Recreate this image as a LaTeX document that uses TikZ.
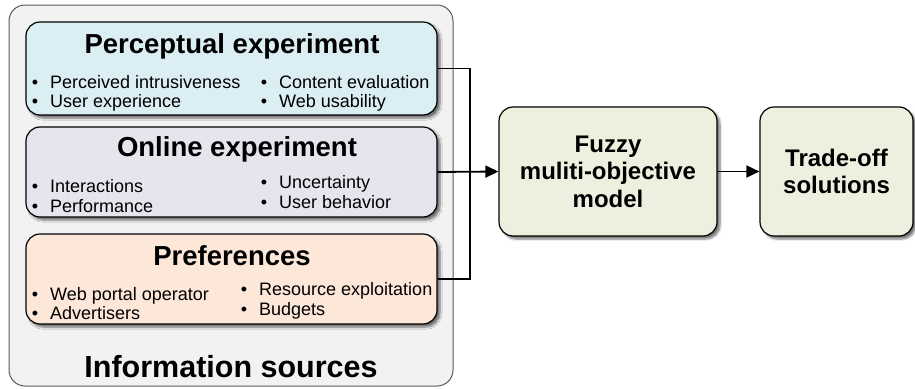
\documentclass[tikz,border=0pt]{standalone}
\usepackage{fontspec}
\setmainfont{Liberation Sans}
\usetikzlibrary{arrows.meta,shadows.blur}

\definecolor{srcgray}{HTML}{F2F2F2}
\definecolor{srcedge}{HTML}{5A5A5A}
\definecolor{percblue}{HTML}{DAEEF3}
\definecolor{onlinelilac}{HTML}{E7E4EE}
\definecolor{prefpeach}{HTML}{FCE7D8}
\definecolor{modelgreen}{HTML}{EBF1DE}

% bullet hung to the left of an item
\newcommand{\itm}{\llap{\textbullet\hspace{12pt}}}

\tikzset{
  panel/.style={draw=black, line width=1.2pt, rounded corners=14pt,
    minimum width=411pt, inner sep=0pt,
    blur shadow={shadow xshift=3pt, shadow yshift=-3pt,
      shadow blur steps=6, shadow opacity=55}},
  stage/.style={panel, fill=modelgreen, minimum height=129pt, align=center,
    font=\fontsize{24}{27.5}\selectfont\bfseries},
  heading/.style={anchor=base, inner sep=0pt,
    font=\fontsize{27.5}{30}\selectfont\bfseries},
  item/.style={anchor=base west, inner sep=0pt,
    font=\fontsize{18}{20}\selectfont},
  link/.style={line width=1.8pt},
  arrow/.style={link, -{Triangle[length=13pt,width=12pt]}}
}

\begin{document}
\begin{tikzpicture}[x=1pt,y=-1pt]
    \useasboundingbox (0,0) rectangle (915,388);

    % sources
    \node[draw=srcedge, line width=1pt, fill=srcgray, rounded corners=16pt,
      minimum width=444pt, minimum height=381pt] (sources) at (231,195.5) {};
    \node[anchor=base, inner sep=0pt, font=\fontsize{30.5}{32}\selectfont\bfseries]
      (sources-title) at (231,377) {Information sources};

    \node[panel, fill=percblue, minimum height=93pt] (perc) at (231.5,68.5) {};
    \node[heading] (perc-title) at (232,53) {Perceptual experiment};
    \node[item] (perc-a) at (50,88) {\itm Perceived intrusiveness};
    \node[item] (perc-b) at (50,107) {\itm User experience};
    \node[item] (perc-c) at (279,88) {\itm Content evaluation};
    \node[item] (perc-d) at (279,107) {\itm Web usability};

    \node[panel, fill=onlinelilac, minimum height=90pt] (online) at (231.5,172) {};
    \node[heading] (online-title) at (237,156) {Online experiment};
    \node[item] (online-a) at (50,192) {\itm Interactions};
    \node[item] (online-b) at (50,212) {\itm Performance};
    \node[item] (online-c) at (279,188) {\itm Uncertainty};
    \node[item] (online-d) at (279,208) {\itm User behavior};

    \node[panel, fill=prefpeach, minimum height=90pt] (pref) at (231.5,279) {};
    \node[heading] (pref-title) at (232,265) {Preferences};
    \node[item] (pref-a) at (50,300) {\itm Web portal operator};
    \node[item] (pref-b) at (50,319) {\itm Advertisers};
    \node[item] (pref-c) at (259,295) {\itm Resource exploitation};
    \node[item] (pref-d) at (259,315) {\itm Budgets};

    % model and result
    \node[stage, minimum width=218pt] (fuzzy) at (608,171.5)
      {Fuzzy\\muliti-objective\\model};
    \node[stage, minimum width=153pt] (tradeoff) at (836.5,171.5)
      {Trade-off\\solutions};

    % connectors
    \coordinate (bus) at (470,172);
    \draw[link] (perc.east) -| (bus) |- (pref.east);
    \draw[arrow] (online.east) -- (fuzzy.west);
    \draw[arrow] (fuzzy) -- (tradeoff);
\end{tikzpicture}
\end{document}
